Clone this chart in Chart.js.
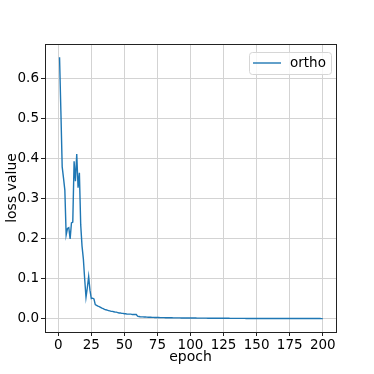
<!DOCTYPE html>
<html>
<head>
<meta charset="utf-8">
<script src="https://cdn.jsdelivr.net/npm/chart.js@4/dist/chart.umd.min.js"></script>
<style>
  html, body { margin: 0; padding: 0; background: #fff; }
  #wrap { width: 374px; height: 374px; }
</style>
</head>
<body>
<div id="wrap"><canvas id="grafico"></canvas></div>
<script>
const serie_nome = 'ortho';

// loss per epoch (epoch 1..200)
const loss = [
    0.654, 0.52, 0.38, 0.352, 0.322, 0.21, 0.226, 0.228, 0.2, 0.24,
    0.242, 0.394, 0.344, 0.412, 0.328, 0.365, 0.235, 0.182, 0.15, 0.1,
    0.054, 0.078, 0.106, 0.072, 0.051, 0.052, 0.05, 0.036, 0.034, 0.032,
    0.031, 0.029, 0.027, 0.026, 0.024, 0.023, 0.022, 0.021, 0.02, 0.019,
    0.019, 0.018, 0.017, 0.017, 0.016, 0.015, 0.015, 0.014, 0.014, 0.013,
    0.013, 0.012, 0.012, 0.012, 0.012, 0.011, 0.011, 0.011, 0.011, 0.007,
    0.006, 0.0056, 0.0053, 0.0051, 0.0049, 0.0047, 0.0045, 0.0044, 0.0042, 0.0041,
    0.004, 0.0039, 0.0038, 0.0037, 0.0036, 0.0035, 0.0034, 0.0033, 0.0033, 0.0032,
    0.0031, 0.0031, 0.003, 0.003, 0.0029, 0.0029, 0.0028, 0.0028, 0.0027, 0.0027,
    0.0026, 0.0026, 0.0025, 0.0025, 0.0025, 0.0024, 0.0024, 0.0024, 0.0023, 0.0023,
    0.0023, 0.0022, 0.0022, 0.0022, 0.0021, 0.0021, 0.0021, 0.0021, 0.002, 0.002,
    0.002, 0.002, 0.0019, 0.0019, 0.0019, 0.0019, 0.0018, 0.0018, 0.0018, 0.0018,
    0.0017, 0.0017, 0.0017, 0.0017, 0.0016, 0.0016, 0.0016, 0.0016, 0.0016, 0.0015,
    0.0015, 0.0015, 0.0015, 0.0015, 0.0015, 0.0014, 0.0014, 0.0014, 0.0014, 0.0014,
    0.0014, 0.0013, 0.0013, 0.0013, 0.0013, 0.0013, 0.0013, 0.0013, 0.0012, 0.0012,
    0.0012, 0.0012, 0.0012, 0.0012, 0.0012, 0.0012, 0.0012, 0.0011, 0.0011, 0.0011,
    0.0011, 0.0011, 0.0011, 0.0011, 0.0011, 0.0011, 0.0011, 0.0011, 0.0011, 0.0011,
    0.0011, 0.0011, 0.001, 0.001, 0.001, 0.001, 0.001, 0.001, 0.001, 0.001,
    0.001, 0.001, 0.001, 0.001, 0.001, 0.001, 0.001, 0.001, 0.001, 0.001,
    0.001, 0.001, 0.001, 0.001, 0.001, 0.001, 0.001, 0.001, 0.0009, 0.0009
];
const epochs = loss.map((_, i) => i + 1);

const x_ticks = [0, 25, 50, 75, 100, 125, 150, 175, 200];
const y_ticks = [0.0, 0.1, 0.2, 0.3, 0.4, 0.5, 0.6];

const cor_linha = '#1f77b4';
const fonte = "'DejaVu Sans', sans-serif";

// moldura dos eixos (4 lados) + legenda estilo matplotlib
const moldura = {
    id: 'moldura',
    afterDraw: (chart) => {
        const {ctx, chartArea: a} = chart;
        ctx.save();
        ctx.strokeStyle = '#222';
        ctx.lineWidth = 1;
        ctx.strokeRect(Math.round(a.left) + 0.5, Math.round(a.top) + 0.5,
            Math.round(a.right - a.left), Math.round(a.bottom - a.top));

        // legenda
        const ds = chart.data.datasets[0];
        const bx = a.right - 87, by = a.top + 8, bw = 82, bh = 22;
        ctx.beginPath();
        ctx.roundRect(bx + 0.5, by + 0.5, bw, bh, 3);
        ctx.fillStyle = 'rgba(255,255,255,0.8)';
        ctx.fill();
        ctx.strokeStyle = '#d6d6d6';
        ctx.stroke();
        ctx.beginPath();
        ctx.moveTo(bx + 4, by + 11);
        ctx.lineTo(bx + 32, by + 11);
        ctx.strokeStyle = ds.borderColor;
        ctx.lineWidth = 1.4;
        ctx.stroke();
        ctx.fillStyle = '#000';
        ctx.font = '13.5px ' + fonte;
        ctx.textBaseline = 'middle';
        ctx.textAlign = 'left';
        ctx.fillText(ds.label, bx + 41, by + 11.5);
        ctx.restore();
    }
};

const grafico = new Chart(document.getElementById('grafico'), {
    type: 'line',
    data: {
        datasets: [
            {
                label: serie_nome,
                data: epochs.map((e, i) => ({x: e, y: loss[i]})),
                borderColor: cor_linha,
                borderWidth: 1.4,
                pointRadius: 0,
                tension: 0,
                fill: false
            }
        ]
    },
    options: {
        responsive: true,
        maintainAspectRatio: false,
        animation: false,
        layout: {
            padding: {left: 0, top: 44, right: 38, bottom: 0}
        },
        plugins: {
            legend: {display: false},
            tooltip: {enabled: false}
        },
        scales: {
            x: {
                type: 'linear',
                min: -10,
                max: 210,
                afterBuildTicks: (scale) => {
                    scale.ticks = x_ticks.map(v => ({value: v}));
                },
                afterFit: (scale) => {
                    scale.height = 42;
                },
                grid: {
                    color: '#d3d3d3',
                    lineWidth: 1,
                    tickColor: '#222',
                    tickLength: 4
                },
                border: {display: false},
                ticks: {
                    color: '#000',
                    padding: 1,
                    maxRotation: 0,
                    font: {family: fonte, size: 13.5}
                },
                title: {
                    display: true,
                    text: 'epoch',
                    color: '#000',
                    font: {family: fonte, size: 14}
,
                    padding: {top: 0, bottom: 8}
                }
            },
            y: {
                type: 'linear',
                min: -0.0326,
                max: 0.687,
                afterBuildTicks: (scale) => {
                    scale.ticks = y_ticks.map(v => ({value: v}));
                },
                afterFit: (scale) => {
                    scale.width = 45;
                },
                grid: {
                    color: '#d3d3d3',
                    lineWidth: 1,
                    tickColor: '#222',
                    tickLength: 4
                },
                border: {display: false},
                ticks: {
                    color: '#000',
                    padding: 2,
                    font: {family: fonte, size: 13.5},
                    callback: (v) => v.toFixed(1)
                },
                title: {
                    display: true,
                    text: 'loss value',
                    color: '#000',
                    font: {family: fonte, size: 14},
                    padding: {top: 4, bottom: 0}
                }
            }
        }
    },
    plugins: [moldura]
});
</script>
</body>
</html>
